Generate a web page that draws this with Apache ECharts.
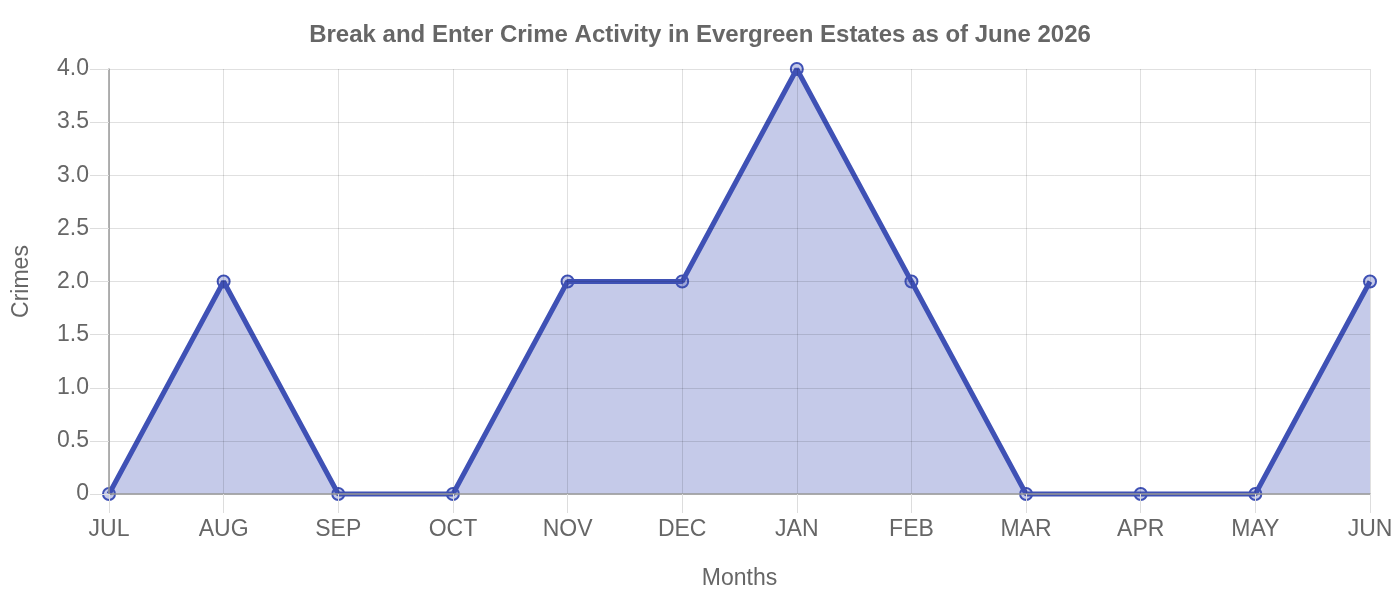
<!DOCTYPE html>
<html><head><meta charset="utf-8">
<script src="https://cdn.jsdelivr.net/npm/echarts@6/dist/echarts.min.js"></script>
<style>html,body{margin:0;padding:0;background:#fff}#c{width:1400px;height:600px}</style>
</head><body><div id="c"></div>
<script>
const months = ['JUL','AUG','SEP','OCT','NOV','DEC','JAN','FEB','MAR','APR','MAY','JUN'];
const crimes = [0,2,0,0,2,2,4,2,0,0,0,2];
const yMin = 0, yMax = 4, yStep = 0.5;
const chart = echarts.init(document.getElementById('c'));
const font = 'Liberation Sans, Arial, sans-serif';
chart.setOption({
  animation: false,
  title: { text: 'Break and Enter Crime Activity in Evergreen Estates as of June 2026', left: 'center', top: 18,
    textStyle: { fontFamily: font, fontSize: 24, fontWeight: 'bold', color: '#666' } },
  grid: { left: 109, right: 30, top: 69, bottom: 106, containLabel: false },
  xAxis: {
    type: 'category', data: months, boundaryGap: false, z: 5,
    name: 'Months', nameLocation: 'middle', nameGap: 73,
    nameTextStyle: { fontFamily: font, fontSize: 23, color: '#666' },
    axisLine: { lineStyle: { color: '#999', width: 1.5 } },
    axisTick: { show: true, inside: false, alignWithLabel: true, length: 19, lineStyle: { color: '#ddd', width: 1 } },
    axisLabel: { fontFamily: font, fontSize: 23, color: '#666', margin: 24 },
    splitLine: { show: true, lineStyle: { color: 'rgba(0,0,0,0.12)', width: 1 } }
  },
  yAxis: {
    type: 'value', min: yMin, max: yMax, interval: yStep, z: 5,
    name: 'Crimes', nameLocation: 'middle', nameGap: 76,
    nameTextStyle: { fontFamily: font, fontSize: 23, color: '#666' },
    axisLine: { show: true, lineStyle: { color: '#999', width: 1.5 } },
    axisTick: { show: true, inside: false, length: 19, lineStyle: { color: '#ddd', width: 1 } },
    axisLabel: { fontFamily: font, fontSize: 23, color: '#666', margin: 20,
      formatter: v => v === 0 ? '0' : v.toFixed(1) },
    splitLine: { show: true, lineStyle: { color: 'rgba(0,0,0,0.12)', width: 1 } }
  },
  series: [{
    type: 'line', data: crimes, symbol: 'circle', symbolSize: 12,
    lineStyle: { color: '#3f51b5', width: 5 },
    itemStyle: { color: 'rgba(63,81,181,0.3)', borderColor: '#3f51b5', borderWidth: 2 },
    areaStyle: { color: '#3f51b5', opacity: 0.3 },
    clip: false
  }]
});
</script></body></html>
